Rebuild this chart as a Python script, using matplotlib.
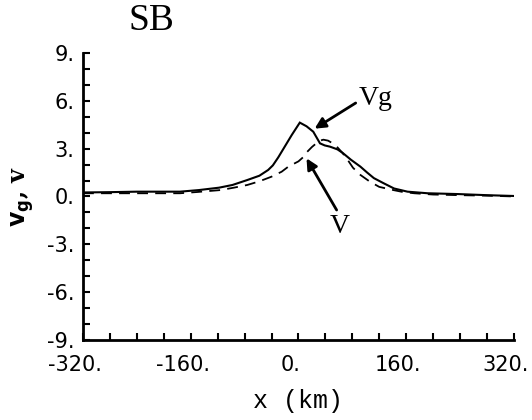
import matplotlib
matplotlib.use("Agg")
import matplotlib.pyplot as plt
from matplotlib.transforms import ScaledTranslation
import numpy as np

# Data
x_vg = [-320, -280, -240, -198, -176, -148, -118, -98, -76, -58, -45, -38, -30, -20, -10, 2,
        12, 22, 32, 39, 47, 58, 66, 78, 92, 102, 112, 126, 142, 162, 192, 237, 280, 320]
vg = [0.25, 0.27, 0.3, 0.3, 0.3, 0.4, 0.55, 0.72, 1.03, 1.3, 1.66, 1.95, 2.45, 3.15, 3.85, 4.63,
      4.4, 4.06, 3.33, 3.2, 3.12, 2.95, 2.72, 2.3, 1.87, 1.5, 1.15, 0.84, 0.5, 0.3, 0.2, 0.15, 0.08, 0.03]

x_v = [-320, -240, -176, -150, -116, -96, -76, -58, -40, -25, -15, 0, 8, 13, 20, 27, 32, 37,
       44, 50, 57, 65, 73, 81, 92, 106, 120, 141, 155, 172, 200, 240, 280, 320]
v = [0.2, 0.2, 0.2, 0.28, 0.4, 0.55, 0.72, 0.95, 1.24, 1.55, 1.87, 2.2, 2.5, 2.8, 3.1, 3.35, 3.5, 3.56,
     3.5, 3.35, 3.12, 2.75, 2.3, 1.8, 1.35, 0.93, 0.6, 0.4, 0.28, 0.2, 0.12, 0.08, 0.05, 0.0]

x_major = [-320, -160, 0, 160, 320]
x_labels = ["-320.", "-160.", "0.", "160.", "320."]
y_major = [-9, -6, -3, 0, 3, 6, 9]
y_labels = ["-9.", "-6.", "-3.", "0.", "3.", "6.", "9."]

fig = plt.figure(figsize=(5.32, 4.2), dpi=100)
ax = fig.add_axes([0.156, 0.1905, 0.810, 0.6835])

ax.plot(x_vg, vg, color="black", lw=1.5, solid_joinstyle="miter")
ax.plot(x_v, v, color="black", lw=1.3, dashes=(6, 4))

ax.set_xlim(-320, 320)
ax.set_ylim(-9, 9)

for s in ["top", "right"]:
    ax.spines[s].set_visible(False)
for s in ["left", "bottom"]:
    ax.spines[s].set_linewidth(2)

ax.set_xticks(np.arange(-320, 321, 40), minor=True)
ax.set_yticks(np.arange(-9, 10, 1), minor=True)
ax.set_xticks(x_major)
ax.set_xticklabels(x_labels)
ax.set_yticks(y_major)
ax.set_yticklabels(y_labels)
ax.tick_params(which="both", direction="in", length=5, width=1.5, color="black")
ax.tick_params(axis="x", which="major", labelsize=15, pad=11)
ax.tick_params(axis="y", which="major", labelsize=15, pad=6)

off = ScaledTranslation(-8 / 100, 0, fig.dpi_scale_trans)
for lab in ax.get_xticklabels():
    lab.set_transform(lab.get_transform() + off)

ax.set_xlabel("x (km)", fontfamily="Liberation Mono", fontsize=18, labelpad=10)
ax.set_ylabel(r"$\mathbf{v_g}$, v", fontfamily="DejaVu Serif", fontweight="bold",
              fontsize=17, labelpad=8)

fig.text(0.284, 0.95, "SB", fontfamily="Liberation Serif", fontsize=27,
         ha="center", va="center")

arrow = dict(arrowstyle="-|>", color="black", lw=2, mutation_scale=16,
             shrinkA=0, shrinkB=0)
ax.annotate("", xy=(24, 4.25), xytext=(85, 5.86), arrowprops=arrow)
ax.annotate("", xy=(12, 2.39), xytext=(56.7, -0.85), arrowprops=arrow)
ax.text(90, 5.74, "Vg", fontfamily="Liberation Serif", fontsize=20,
        ha="left", va="baseline")
ax.text(46.8, -2.29, "V", fontfamily="Liberation Serif", fontsize=20,
        ha="left", va="baseline")

fig.savefig("out.png", dpi=100)
